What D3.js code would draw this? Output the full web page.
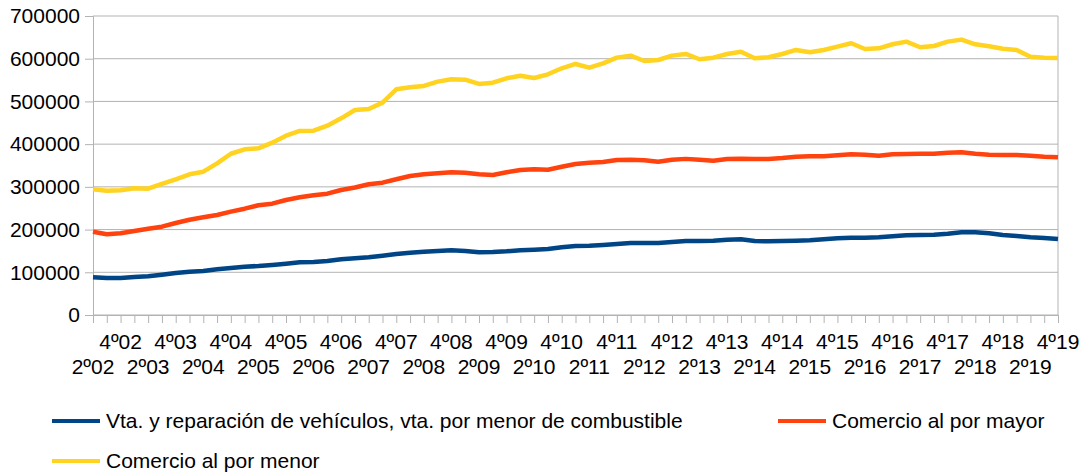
<!DOCTYPE html>
<html><head><meta charset="utf-8">
<script src="https://cdn.jsdelivr.net/npm/d3@7"></script>
<style>
html,body{margin:0;padding:0;background:#fff;}
svg{display:block;font-family:"Liberation Sans",Arial,sans-serif;}
</style></head>
<body><svg id="c" width="1082" height="473"></svg>
<script>
const years = d3.range(2002, 2020);
const quarters = [];
years.forEach(yr => [1,2,3,4].forEach(q => { if (!(yr === 2002 && q === 1)) quarters.push(q + "º" + String(yr).slice(2)); }));

const seriesNames = [
  "Vta. y reparación de vehículos, vta. por menor de combustible",
  "Comercio al por mayor",
  "Comercio al por menor"
];
const seriesColors = ["#004586", "#ff420e", "#ffd320"];

const vehiculos = [88300,86600,86600,89000,90600,94400,98300,101400,103000,107000,
  110000,113100,114700,117100,120100,123400,124100,126400,130400,133000,
  135100,138800,142800,145900,148200,149800,151500,149800,146800,147500,
  149100,151500,152900,154500,158500,161600,162300,163900,166200,168600,
  168600,168600,170900,173300,173000,174000,176300,177100,173300,172500,
  173300,174000,174900,177100,179500,181000,181000,181800,184200,186600,
  187300,188000,190300,193600,193600,191300,187300,185000,181800,180300,177900];

const mayor = [195000,188900,191300,196700,202100,206800,215400,223100,228700,234100,
  241900,248900,256800,260600,269300,275500,280200,284000,292700,298500,
  306000,309800,317700,325400,329400,331700,334100,333200,329400,327800,
  334100,339500,341100,340200,347200,353500,356600,358200,363000,363500,
  362500,358800,363500,365500,363500,361300,365300,366000,365300,365300,
  367600,370700,371500,371500,373900,376200,375400,373000,376200,377000,
  377700,377700,380000,380900,377700,375400,374600,374600,373000,370700,369200];

const menor = [294300,291000,292000,296600,295700,306700,317700,329400,335500,355100,
  377500,388000,390200,403400,419800,430800,431500,443200,460500,480000,
  482300,497100,528400,533100,536200,546300,551800,551000,540900,543900,
  554200,560300,554900,563500,577600,587700,579100,589200,602500,607200,
  594700,597000,607200,611100,598700,602500,611100,616500,601000,603300,
  611100,620500,615000,620500,628300,636100,622800,624400,633800,640000,
  626800,629800,640000,644700,633800,629100,623500,620500,604800,602500,601700];

const yTicks = [0,100000,200000,300000,400000,500000,600000,700000];

const series = [vehiculos, mayor, menor];

const svg = d3.select("#c");
const pLeft = 93, pRight = 1058, pTop = 16, pBottom = 315;
const grid = "#b3b3b3";
const fs = 21;

const x = d3.scalePoint().domain(quarters).range([pLeft, pRight]);
const y = d3.scaleLinear().domain([0, 700000]).range([pBottom, pTop]);

// gridlines
svg.append("g").selectAll("line").data(yTicks).join("line")
  .attr("x1", pLeft).attr("x2", pRight)
  .attr("y1", d => y(d)).attr("y2", d => y(d))
  .attr("stroke", grid).attr("stroke-width", 1);

// right border
svg.append("line").attr("x1", pRight).attr("x2", pRight).attr("y1", pTop).attr("y2", pBottom)
  .attr("stroke", grid).attr("stroke-width", 1);

// y axis
const yAxis = d3.axisLeft(y).tickValues(yTicks).tickSize(8).tickPadding(5).tickFormat(d3.format("d"));
const gy = svg.append("g").attr("transform", `translate(${pLeft},0)`).call(yAxis);
gy.select(".domain").attr("stroke", grid);
gy.selectAll(".tick line").attr("stroke", grid);
gy.selectAll(".tick text").attr("font-size", fs).attr("fill", "#000")
  .attr("font-family", "Liberation Sans, Arial, sans-serif");

// x axis
const xAxis = d3.axisBottom(x).tickSize(8).tickSizeOuter(0).tickFormat("");
const gx = svg.append("g").attr("transform", `translate(0,${pBottom})`).call(xAxis);
gx.select(".domain").attr("stroke", grid);
gx.selectAll(".tick line").attr("stroke", grid);

// x labels, every second category, staggered
const labelG = svg.append("g").attr("font-size", fs).attr("text-anchor", "middle").attr("fill", "#000");
quarters.forEach((q, i) => {
  if (i % 2 !== 0) return;
  const topRow = (i / 2) % 2 === 1;
  labelG.append("text").attr("x", x(q)).attr("y", topRow ? 349 : 374).text(q);
});

// lines
const line = d3.line().x((d, i) => x(quarters[i])).y(d => y(d));
series.forEach((s, k) => {
  svg.append("path").datum(s).attr("d", line)
    .attr("fill", "none").attr("stroke", seriesColors[k])
    .attr("stroke-width", 4.5).attr("stroke-linejoin", "round");
});

// legend
const legendPos = [[52, 421], [778, 421], [52, 461]];
seriesNames.forEach((n, k) => {
  const [lx, ly] = legendPos[k];
  svg.append("line").attr("x1", lx).attr("x2", lx + 48).attr("y1", ly).attr("y2", ly)
    .attr("stroke", seriesColors[k]).attr("stroke-width", 4);
  svg.append("text").attr("x", lx + 54).attr("y", ly).attr("dy", "0.35em")
    .attr("font-size", fs).attr("fill", "#000").text(n);
});
</script></body></html>
